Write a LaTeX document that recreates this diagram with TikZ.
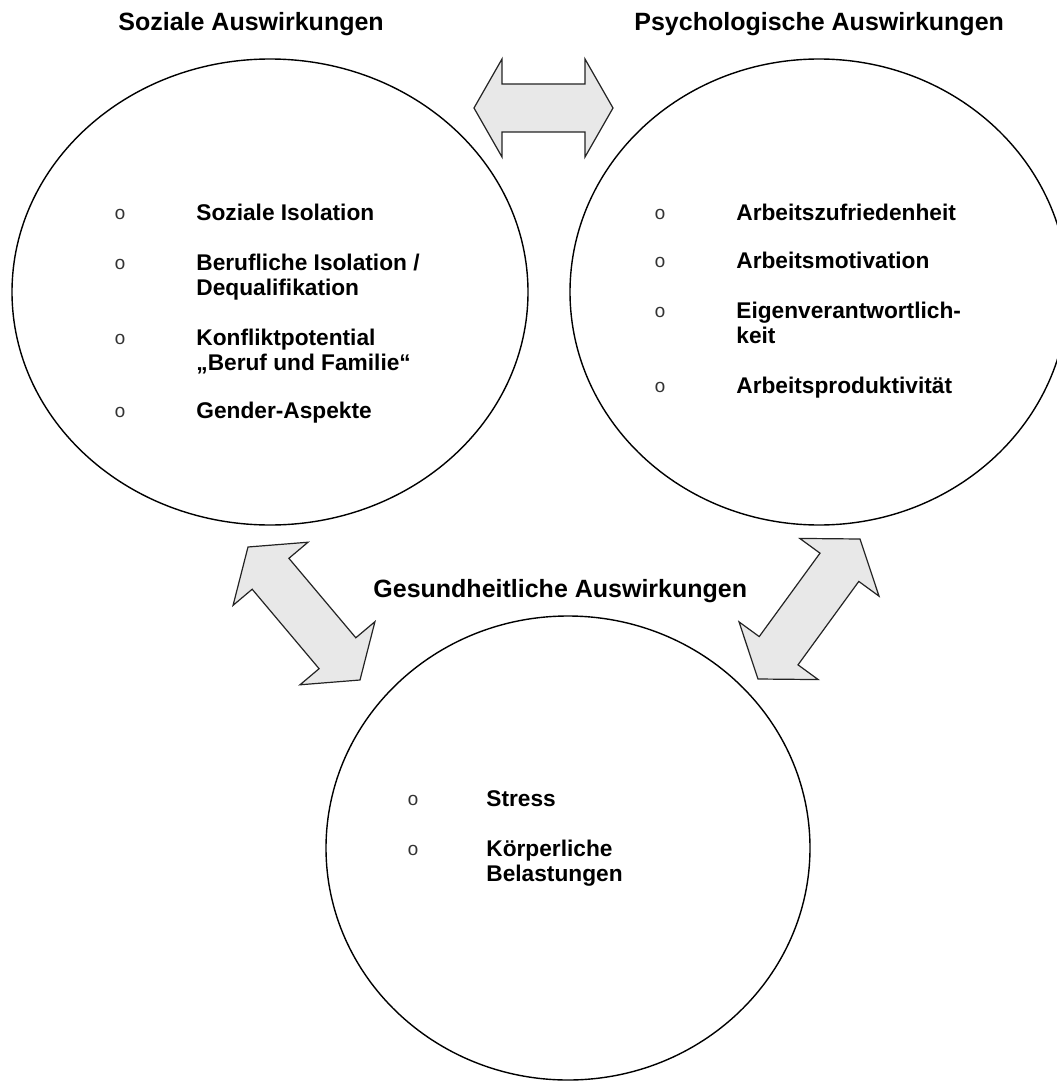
\documentclass[tikz,border=0pt]{standalone}
\usepackage{fontspec}
\setmainfont{Liberation Sans}
\newfontfamily\bulletfont{Liberation Mono}
\usetikzlibrary{calc,shapes.geometric}
\definecolor{arrfill}{RGB}{232,232,232}
\definecolor{arrline}{RGB}{35,35,35}

% block arrow with two heads: #1, #2 tips, #3 head length
\newcommand\blockarrow[3]{%
  \coordinate (n1) at ($(#1)!#3!(#2)$);
  \coordinate (n2) at ($(#2)!#3!(#1)$);
  \draw[blk] (#1) -- ($(n1)!24.5pt!90:(#1)$) -- ($(n1)!12pt!90:(#1)$)
    -- ($(n2)!12pt!-90:(#2)$) -- ($(n2)!24.5pt!-90:(#2)$) -- (#2)
    -- ($(n2)!24.5pt!90:(#2)$) -- ($(n2)!12pt!90:(#2)$)
    -- ($(n1)!12pt!-90:(#1)$) -- ($(n1)!24.5pt!-90:(#1)$) -- cycle;}

\begin{document}
\begin{tikzpicture}[x=0.5pt,y=-0.5pt,
  bubble/.style={draw,ellipse,line width=0.7pt,inner sep=0pt},
  heading/.style={anchor=base west,inner sep=0pt,
                  font=\fontsize{12.5}{15}\selectfont\bfseries},
  item/.style={anchor=north west,inner sep=0pt,align=left,
               font=\fontsize{11.35}{12.5}\selectfont\bfseries},
  bul/.style={anchor=base,inner sep=0pt,text=black!80,
              font=\bulletfont\fontsize{9.5}{12}\selectfont},
  blk/.style={draw=arrline,fill=arrfill,line width=0.6pt,line join=miter}
]
\useasboundingbox (0,0) rectangle (1056,1081);

% the three areas
\node[bubble,minimum width=258pt,minimum height=233pt] (soz) at (270,292) {};
\node[bubble,minimum width=249pt,minimum height=233pt] (psy) at (819,292) {};
\node[bubble,minimum width=242pt,minimum height=232pt] (ges) at (568,848) {};

\node[heading] (sozt) at (118,31) {Soziale Auswirkungen};
\node[heading] (psyt) at (634,31) {Psychologische Auswirkungen};
\node[heading] (gest) at (373,597) {Gesundheitliche Auswirkungen};

% soziale
\node[bul] (sb1) at (120,219) {o};
\node[item] (s1) at (196,204) {Soziale Isolation};
\node[bul] (sb2) at (120,269) {o};
\node[item] (s2) at (196,254) {Berufliche Isolation /\\Dequalifikation};
\node[bul] (sb3) at (120,344) {o};
\node[item] (s3) at (196,329) {Konfliktpotential\\„Beruf und Familie“};
\node[bul] (sb4) at (120,417) {o};
\node[item] (s4) at (196,402) {Gender-Aspekte};

% psychologische
\node[bul] (pb1) at (660,219) {o};
\node[item] (p1) at (736,204) {Arbeitszufriedenheit};
\node[bul] (pb2) at (660,267) {o};
\node[item] (p2) at (736,252) {Arbeitsmotivation};
\node[bul] (pb3) at (660,317) {o};
\node[item] (p3) at (736,302) {Eigenverantwortlich-\\keit};
\node[bul] (pb4) at (660,392) {o};
\node[item] (p4) at (736,377) {Arbeitsproduktivität};

% gesundheitliche
\node[bul] (gb1) at (413,805) {o};
\node[item] (g1) at (486,790) {Stress};
\node[bul] (gb2) at (413,855) {o};
\node[item] (g2) at (486,840) {Körperliche\\Belastungen};

% arrows between the areas
\coordinate (ta) at (474,108);
\coordinate (tb) at (613,108);
\coordinate (la) at (248,547);
\coordinate (lb) at (360,680);
\coordinate (ra) at (860,539);
\coordinate (rb) at (758,679);
\blockarrow{ta}{tb}{14pt}
\blockarrow{la}{lb}{17.5pt}
\blockarrow{ra}{rb}{17.5pt}
\end{tikzpicture}
\end{document}
